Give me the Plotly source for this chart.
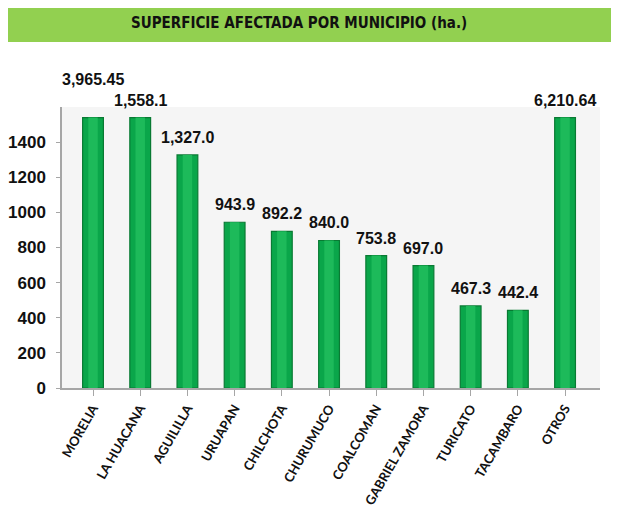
import numpy as np
import plotly.graph_objects as go

# superficie afectada por municipio (ha.)
municipios = ["MORELIA", "LA HUACANA", "AGUILILLA", "URUAPAN", "CHILCHOTA",
              "CHURUMUCO", "COALCOMAN", "GABRIEL ZAMORA", "TURICATO",
              "TACAMBARO", "OTROS"]
hectareas = [3965.45, 1558.1, 1327.0, 943.9, 892.2, 840.0, 753.8, 697.0,
             467.3, 442.4, 6210.64]
etiquetas = ["3,965.45", "1,558.1", "1,327.0", "943.9", "892.2", "840.0",
             "753.8", "697.0", "467.3", "442.4", "6,210.64"]
y_ticks = [0, 200, 400, 600, 800, 1000, 1200, 1400]

# the original chart cuts the tall bars off just under the top of the axis
tope = 1540
alturas = np.minimum(np.array(hectareas), tope)

fig = go.Figure()

fig.add_bar(
    x=municipios, y=alturas,
    width=0.44,
    marker=dict(color="#0AA64A", line=dict(color="#097A33", width=1.2)),
    hoverinfo="skip",
)
# lighter strip in the middle so the bars read a bit like cylinders
fig.add_bar(
    x=municipios, y=alturas,
    width=0.2,
    marker=dict(color="#1DBA5A", line=dict(width=0)),
    hoverinfo="skip",
)

# value labels; MORELIA's sits higher so it clears LA HUACANA's
for m, h, e in zip(municipios, alturas, etiquetas):
    fig.add_annotation(
        x=m, y=h, text="<b>%s</b>" % e,
        showarrow=False, yanchor="bottom",
        yshift=28 if m == "MORELIA" else 7,
        font=dict(family="Liberation Sans, Arial", size=16, color="#111111"),
    )

# page has an 8px body margin, so figure coords = page coords - 8
# plot area (figure px): x 54..592, y 99..380
fig.update_layout(
    width=632, height=521,
    barmode="overlay",
    showlegend=False,
    paper_bgcolor="white",
    plot_bgcolor="#F5F5F5",
    margin=dict(l=54, r=40, t=99, b=141),
    shapes=[dict(type="rect", xref="paper", yref="paper",
                 x0=-54 / 538, x1=(603 - 54) / 538,
                 y0=(380 - 34) / 281, y1=380 / 281,
                 fillcolor="#92D050", line=dict(width=0), layer="below")],
)
fig.add_annotation(
    text="<b>SUPERFICIE AFECTADA POR MUNICIPIO (ha.)</b>",
    xref="paper", yref="paper",
    x=(291 - 54) / 538, y=(380 - 15) / 281,
    showarrow=False, xanchor="center", yanchor="middle",
    font=dict(family="DejaVu Sans Condensed, Liberation Sans Narrow, Arial Narrow",
              size=15, color="#111111"),
)

fig.update_xaxes(
    range=[-0.657, 10.74],
    automargin=False,
    showline=True, linecolor="#A6A6A6", linewidth=1.5,
    ticks="outside", tickcolor="#A6A6A6", ticklen=6,
    tickangle=-60,
    tickfont=dict(family="Lato, Open Sans", size=13, color="#111111", weight="bold"),
    showgrid=False,
)
fig.update_yaxes(
    range=[0, 1600],
    tickvals=y_ticks,
    automargin=False,
    showline=True, linecolor="#A6A6A6", linewidth=1.5,
    ticks="outside", tickcolor="#A6A6A6", ticklen=4,
    ticklabelstandoff=7,
    tickfont=dict(family="Liberation Sans, Arial", size=17, color="#111111", weight="bold"),
    showgrid=False, zeroline=False,
)

fig.write_html("out.html")
